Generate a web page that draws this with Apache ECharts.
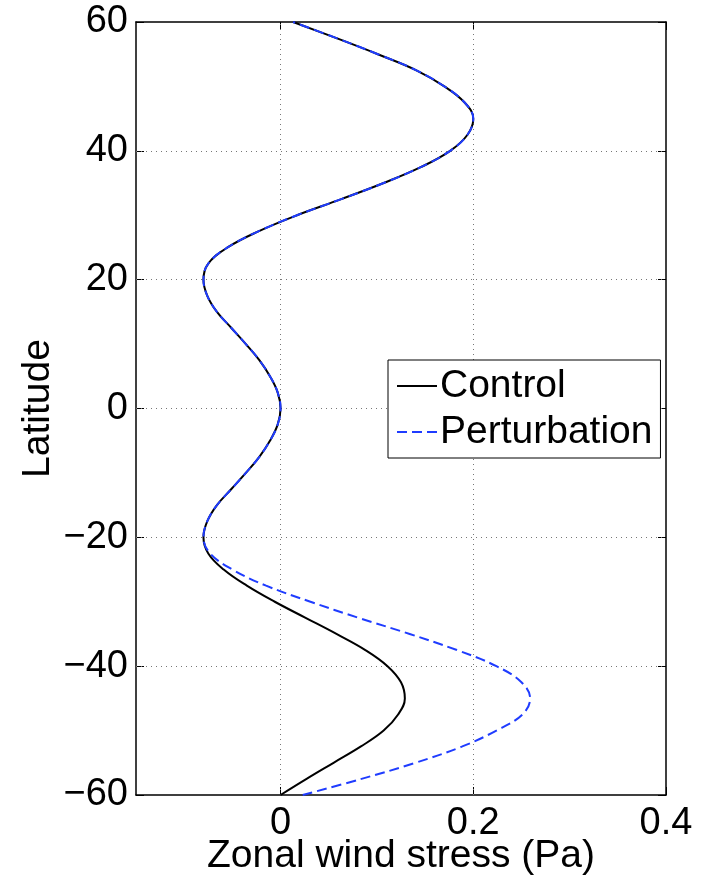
<!DOCTYPE html>
<html>
<head>
<meta charset="utf-8">
<script src="https://cdn.jsdelivr.net/npm/echarts@6/dist/echarts.min.js"></script>
<style>
html,body{margin:0;padding:0;background:#fff;}
#chart{width:702px;height:879px;}
</style>
</head>
<body>
<div id="chart"></div>
<script>
// Latitude samples (degrees)
var latitudes = [-60,-57.5,-55,-52.5,-50,-47.5,-45,-42.5,-40,-37.5,-35,-32.5,-30,-27.5,-25,-22.5,-20,-17.5,-15,-12.5,-10,-7.5,-5,-2.5,0,2.5,5,7.5,10,12.5,15,17.5,20,22.5,25,27.5,30,32.5,35,37.5,40,42.5,45,47.5,50,52.5,55,57.5,60];
// Zonal wind stress (Pa), control run
var controlStress = [0.000,0.027,0.055,0.083,0.107,0.122,0.129,0.125,0.111,0.088,0.058,0.026,-0.006,-0.035,-0.059,-0.075,-0.080,-0.076,-0.066,-0.051,-0.036,-0.022,-0.011,-0.003,0.000,-0.003,-0.011,-0.022,-0.036,-0.051,-0.066,-0.076,-0.080,-0.075,-0.055,-0.023,0.017,0.063,0.107,0.146,0.176,0.194,0.200,0.191,0.170,0.141,0.101,0.058,0.013];
// Zonal wind stress (Pa), perturbation run
var perturbStress = [0.023,0.084,0.140,0.188,0.224,0.251,0.259,0.250,0.224,0.183,0.134,0.081,0.031,-0.015,-0.050,-0.073,-0.080,-0.076,-0.066,-0.051,-0.036,-0.022,-0.011,-0.003,0.000,-0.003,-0.011,-0.022,-0.036,-0.051,-0.066,-0.076,-0.080,-0.075,-0.055,-0.023,0.017,0.063,0.107,0.146,0.176,0.194,0.200,0.191,0.170,0.141,0.101,0.058,0.013];
var xTicks = [0, 0.2, 0.4];
var xTickLabels = ['0', '0.2', '0.4'];
var yTicks = [-60, -40, -20, 0, 20, 40, 60];
var yTickLabels = ['\u221260', '\u221240', '\u221220', '0', '20', '40', '60'];
var xGridValues = [0, 0.2];
var yGridValues = [-40, -20, 0, 20, 40];
var seriesNames = ['Control', 'Perturbation'];

var FONT = 'Liberation Sans';
var FS = 38;
var FS_NAME = 39;

function pairs(xs) {
  return xs.map(function (v, i) { return [v, latitudes[i]]; });
}

var gridMarks = xGridValues.map(function (v) { return { xAxis: v }; })
  .concat(yGridValues.map(function (v) { return { yAxis: v }; }));

var chart = echarts.init(document.getElementById('chart'), null, { renderer: 'canvas' });
chart.setOption({
  animation: false,
  backgroundColor: '#ffffff',
  textStyle: { fontFamily: FONT },
  grid: { left: 136, right: 36, top: 22, bottom: 84, containLabel: false, outerBoundsMode: 'none' },
  xAxis: [{
    type: 'value', min: -0.15, max: 0.4, position: 'bottom',
    name: 'Zonal wind stress (Pa)', nameLocation: 'middle', nameGap: 42, nameMoveOverlap: false,
    nameTextStyle: { fontSize: FS_NAME, color: '#000', fontFamily: FONT },
    axisLine: { show: true, onZero: false, lineStyle: { color: '#000', width: 1.5 } },
    axisTick: { show: true, inside: true, length: 8, customValues: xTicks, lineStyle: { color: '#000', width: 1 } },
    axisLabel: { show: true, customValues: xTicks, fontSize: FS, color: '#000', margin: 10, fontFamily: FONT,
      formatter: function (v) { var i = xTicks.indexOf(v); return i >= 0 ? xTickLabels[i] : ''; } },
    splitLine: { show: false }
  }, {
    type: 'value', min: -0.15, max: 0.4, position: 'top',
    axisLine: { show: true, onZero: false, lineStyle: { color: '#000', width: 1.5 } },
    axisTick: { show: true, inside: true, length: 8, customValues: xTicks, lineStyle: { color: '#000', width: 1 } },
    axisLabel: { show: false },
    splitLine: { show: false }
  }],
  yAxis: [{
    type: 'value', min: -60, max: 60, interval: 20, position: 'left',
    name: 'Latitude', nameLocation: 'middle', nameGap: 78, nameRotate: 90, nameMoveOverlap: false,
    nameTextStyle: { fontSize: FS_NAME, color: '#000', fontFamily: FONT },
    axisLine: { show: true, onZero: false, lineStyle: { color: '#000', width: 1.5 } },
    axisTick: { show: true, inside: true, length: 8, lineStyle: { color: '#000', width: 1 } },
    axisLabel: { show: true, fontSize: FS, color: '#000', margin: 8, fontFamily: FONT,
      formatter: function (v) { var i = yTicks.indexOf(v); return i >= 0 ? yTickLabels[i] : ''; } },
    splitLine: { show: false }
  }, {
    type: 'value', min: -60, max: 60, interval: 20, position: 'right',
    axisLine: { show: true, onZero: false, lineStyle: { color: '#000', width: 1.5 } },
    axisTick: { show: true, inside: true, length: 8, lineStyle: { color: '#000', width: 1 } },
    axisLabel: { show: false },
    splitLine: { show: false }
  }],
  legend: {
    orient: 'vertical', left: 388, top: 360,
    data: seriesNames,
    backgroundColor: '#fff', borderColor: '#000', borderWidth: 1,
    padding: [6, 8, 6, 8], itemGap: 6,
    itemWidth: 40, itemHeight: 14,
    itemStyle: { opacity: 0 },
    textStyle: { fontSize: FS_NAME, color: '#000', fontFamily: FONT, lineHeight: 40, padding: [0, 0, 0, -2] }
  },
  series: [{
    name: seriesNames[0], type: 'line', xAxisIndex: 0, yAxisIndex: 0,
    data: pairs(controlStress), smooth: 0.4, symbol: 'none', z: 3,
    lineStyle: { color: '#000', width: 2 }, itemStyle: { color: '#000' },
    markLine: {
      silent: true, symbol: 'none', label: { show: false },
      lineStyle: { color: '#777', width: 1, type: [1, 4] },
      data: gridMarks, z: 1
    }
  }, {
    name: seriesNames[1], type: 'line', xAxisIndex: 0, yAxisIndex: 0,
    data: pairs(perturbStress), smooth: 0.4, symbol: 'none', z: 4,
    lineStyle: { color: '#1f3cff', width: 2, type: [10, 5] }, itemStyle: { color: '#1f3cff' }
  }]
});
</script>
</body>
</html>
